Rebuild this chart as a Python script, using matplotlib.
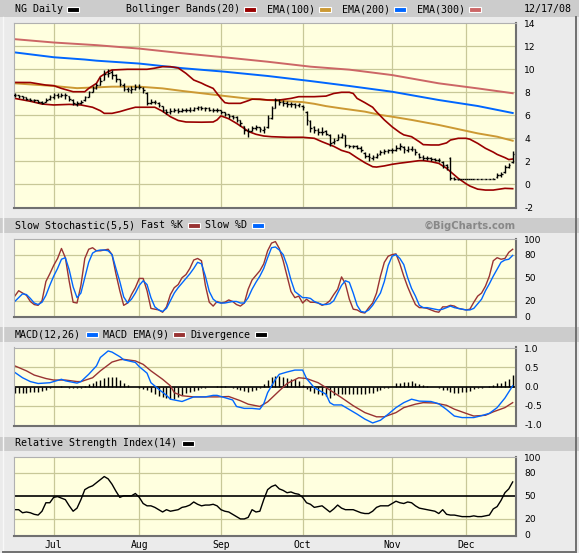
import numpy as np
import pandas as pd
import matplotlib
matplotlib.use('Agg')
import matplotlib.pyplot as plt
from matplotlib.patches import Rectangle
from matplotlib.lines import Line2D

plt.rcParams['axes.unicode_minus'] = False

# ------------------------------------------------------------------ data
holidays = ['2008-07-04', '2008-09-01', '2008-11-27']
dates = pd.bdate_range('2008-06-17', '2008-12-17')
dates = dates[~dates.isin(pd.to_datetime(holidays))]
month_labels = ['Jul', 'Aug', 'Sep', 'Oct', 'Nov', 'Dec']
month_numbers = [7, 8, 9, 10, 11, 12]

price_open = [7.80,7.75,7.65,7.55,7.45,7.35,7.30,7.20,7.15,7.40,
              7.55,7.75,7.70,7.80,7.70,7.35,7.00,7.05,7.30,7.60,
              8.05,8.40,8.65,9.10,9.55,9.75,9.50,9.15,8.65,8.30,
              8.20,8.30,8.50,8.40,7.90,7.05,7.20,7.10,6.80,6.45,
              6.30,6.40,6.50,6.40,6.45,6.50,6.50,6.60,6.70,6.65,
              6.60,6.50,6.50,6.45,6.25,6.10,5.95,5.85,5.55,5.05,
              4.70,4.65,4.90,4.95,4.75,4.95,5.80,6.65,7.30,7.15,
              7.10,7.00,6.95,6.90,6.85,6.30,5.50,4.95,4.70,4.55,
              4.60,4.30,3.65,3.85,4.15,4.25,3.40,3.30,3.30,3.20,
              2.75,2.45,2.30,2.40,2.60,2.80,2.90,3.00,3.00,3.20,
              3.25,3.00,3.10,3.05,2.65,2.40,2.30,2.30,2.20,2.15,
              1.95,1.70,2.30,0.55,0.48,0.45,0.45,0.45,0.45,0.45,
              0.45,0.45,0.45,0.45,0.60,0.80,1.05,1.50,1.90]
price_high = [7.90,7.80,7.70,7.60,7.50,7.45,7.35,7.25,7.50,7.75,
              7.95,7.95,7.95,7.95,7.70,7.40,7.25,7.35,7.70,8.15,
              8.55,8.80,9.30,9.95,10.00,9.95,9.60,9.20,8.80,8.50,
              8.55,8.75,8.75,8.45,8.00,7.40,7.35,7.15,6.80,6.55,
              6.60,6.65,6.60,6.60,6.65,6.70,6.75,6.85,6.80,6.75,
              6.70,6.65,6.60,6.50,6.30,6.15,6.05,5.90,5.60,5.10,
              4.90,5.05,5.15,5.00,5.10,6.00,6.80,7.50,7.45,7.30,
              7.25,7.15,7.10,7.10,6.90,6.40,5.60,5.05,4.90,4.95,
              4.70,4.40,4.00,4.35,4.45,4.30,3.45,3.45,3.40,3.30,
              2.80,2.70,2.55,2.70,3.00,3.05,3.10,3.15,3.40,3.55,
              3.30,3.30,3.30,3.10,2.70,2.55,2.50,2.40,2.30,2.30,
              2.00,1.80,2.40,0.60,0.50,0.48,0.48,0.48,0.48,0.48,
              0.48,0.48,0.48,0.55,0.95,1.05,1.70,1.85,2.90]
price_low = [7.55,7.50,7.40,7.35,7.25,7.20,7.05,7.00,7.15,7.35,
             7.45,7.50,7.55,7.40,7.25,6.90,6.85,6.95,7.25,7.60,
             8.00,8.30,8.60,9.10,9.30,9.20,8.90,8.55,8.10,8.00,
             7.95,8.20,8.25,7.95,6.90,6.95,7.00,6.70,6.30,6.10,
             6.15,6.25,6.20,6.25,6.30,6.30,6.35,6.45,6.45,6.40,
             6.35,6.30,6.30,6.10,5.90,5.75,5.65,5.40,5.05,4.40,
             4.15,4.60,4.70,4.55,4.50,4.90,5.70,6.60,6.90,6.85,
             6.75,6.70,6.65,6.70,6.45,5.20,4.55,4.45,4.30,4.30,
             4.25,3.30,3.50,3.85,4.00,3.25,3.15,3.15,3.10,2.85,
             2.25,2.05,2.10,2.25,2.55,2.60,2.70,2.75,2.90,3.00,
             2.70,2.85,2.90,2.55,2.25,2.10,2.10,2.05,2.00,1.95,
             1.40,1.25,0.35,0.40,0.40,0.42,0.42,0.42,0.42,0.42,
             0.42,0.42,0.42,0.42,0.55,0.65,1.00,1.45,1.85]
price_close = [7.75,7.65,7.55,7.45,7.35,7.30,7.20,7.10,7.35,7.60,
               7.75,7.70,7.80,7.75,7.40,7.05,7.05,7.20,7.55,8.00,
               8.40,8.60,9.00,9.60,9.70,9.50,9.20,8.70,8.30,8.25,
               8.30,8.50,8.50,8.20,7.10,7.20,7.20,6.90,6.50,6.30,
               6.40,6.50,6.40,6.45,6.50,6.50,6.60,6.70,6.65,6.60,
               6.50,6.50,6.45,6.30,6.10,5.95,5.85,5.60,5.30,4.70,
               4.60,4.90,4.95,4.80,4.85,5.80,6.60,7.30,7.15,7.10,
               7.00,6.95,6.90,6.95,6.70,5.60,4.90,4.70,4.55,4.55,
               4.40,3.60,3.80,4.15,4.30,3.40,3.30,3.30,3.20,3.00,
               2.50,2.35,2.40,2.55,2.80,2.90,3.00,3.00,3.20,3.30,
               3.05,3.10,3.10,2.80,2.40,2.30,2.30,2.20,2.15,2.10,
               1.70,1.50,0.55,0.50,0.45,0.45,0.45,0.45,0.45,0.45,
               0.45,0.45,0.45,0.45,0.80,0.90,1.50,1.70,2.60]

# Bollinger bands and EMAs (sampled: trading-day index, value)
bb_upper_day = [0,4,8,10,12,15,18,19,21,22,24,25,29,34,36,38,40,42,44,46,48,49,51,52,53,54,55,58,60,61,63,65,68,71,73,77,80,82,84,86,87,88,90,92,93,95,97,99,100,102,104,105,107,109,111,112,114,116,117,119,121,123,124,126,127,128]
bb_upper_val = [8.86,8.85,8.63,8.58,8.34,8.05,8.05,8.34,8.78,9.36,9.8,9.94,10.0,10.0,10.1,10.23,10.23,10.12,9.65,9.07,8.8,8.63,8.34,7.9,7.47,7.1,7.04,7.04,7.27,7.4,7.4,7.33,7.33,7.47,7.62,7.62,7.67,7.9,8.0,8.0,7.9,7.47,7.1,6.7,6.3,5.6,5.0,4.5,4.3,4.14,3.7,3.45,3.42,3.42,3.6,3.85,4.0,4.0,3.92,3.56,3.13,2.8,2.6,2.32,2.15,2.2]
bb_lower_day = [0,4,7,10,14,17,20,22,23,25,27,29,31,36,38,40,42,44,48,51,52,53,55,57,59,60,62,64,66,70,74,77,79,82,84,86,88,90,92,93,95,97,99,100,102,104,105,107,109,110,111,112,114,116,117,119,121,123,124,126,128]
bb_lower_val = [7.47,7.22,6.98,6.9,6.95,6.9,6.7,6.4,6.17,6.17,6.32,6.52,6.7,6.7,6.35,5.88,5.55,5.42,5.4,5.42,5.6,5.95,5.7,5.3,4.85,4.6,4.35,4.2,4.14,4.09,4.09,4.0,3.7,3.3,2.95,2.75,2.3,1.88,1.53,1.5,1.6,1.74,1.84,1.88,1.97,2.06,2.06,1.97,1.82,1.6,1.4,1.1,0.52,0.05,-0.15,-0.42,-0.5,-0.5,-0.45,-0.35,-0.38]
ema100_day = [0,10,16,21,25,32,38,43,54,60,65,70,74,77,80,84,90,94,97,102,109,113,119,124,128]
ema100_val = [8.78,8.55,8.36,8.43,8.49,8.49,8.34,8.12,7.68,7.45,7.33,7.22,7.15,7.0,6.8,6.6,6.32,6.03,5.88,5.6,5.16,4.87,4.43,4.14,3.79]
ema200_day = [0,10,18,21,32,43,54,65,76,86,97,109,119,128]
ema200_val = [11.47,11.05,10.85,10.75,10.5,10.1,9.79,9.42,8.98,8.55,8.05,7.33,6.81,6.2]
ema300_day = [0,10,21,32,43,54,65,76,86,97,109,119,128]
ema300_val = [12.62,12.33,12.1,11.8,11.4,11.04,10.66,10.23,9.97,9.5,8.78,8.34,7.92]

stoch_fast_k = [26,33,30,27,19,15,14,20,45,55,66,75,88,76,45,18,17,40,75,87,
                89,85,85,86,87,80,55,33,14,17,28,37,49,49,33,10,9,8,5,12,
                28,37,41,50,54,62,73,75,72,40,18,13,19,17,18,21,19,15,13,17,
                35,47,53,59,68,85,95,97,88,72,52,32,24,26,17,22,18,18,17,14,
                16,20,28,35,51,42,22,9,8,5,4,11,17,30,52,70,78,80,81,68,
                52,38,26,15,11,11,10,8,6,5,12,12,14,13,10,9,8,9,18,26,
                30,39,52,72,76,74,75,83,87]
stoch_slow_d = [19,24,29,28,23,17,15,18,27,40,52,62,74,76,60,38,24,30,50,70,
                82,85,86,86,85,80,62,45,25,17,22,30,40,46,41,24,12,8,6,10,
                20,30,37,43,49,55,62,70,68,52,32,22,18,17,17,18,19,19,17,17,
                24,35,44,52,62,76,89,90,86,80,66,47,32,28,24,24,23,19,17,15,
                15,16,20,30,40,46,44,30,14,6,5,8,14,22,30,45,66,78,80,75,
                67,50,36,26,14,11,11,10,9,8,9,11,13,11,10,9,8,8,10,16,
                22,33,42,52,61,70,73,74,79]

macd_day = [0,2,4,6,9,12,13,16,17,19,21,22,24,25,27,28,31,32,34,35,37,39,40,43,45,46,49,51,52,54,56,57,59,61,63,64,65,67,68,70,72,74,75,77,80,81,82,84,86,88,90,92,94,96,98,100,102,104,107,109,111,113,115,118,120,122,124,126,128]
macd_val = [0.37,0.23,0.13,0.08,0.10,0.19,0.15,0.09,0.13,0.32,0.54,0.76,0.93,0.9,0.78,0.70,0.63,0.52,0.35,0.10,-0.07,-0.23,-0.33,-0.39,-0.31,-0.27,-0.27,-0.23,-0.23,-0.29,-0.35,-0.52,-0.57,-0.57,-0.59,-0.45,-0.16,0.19,0.32,0.38,0.43,0.43,0.21,-0.03,-0.2,-0.42,-0.48,-0.48,-0.6,-0.72,-0.85,-0.95,-0.88,-0.72,-0.55,-0.42,-0.33,-0.38,-0.39,-0.45,-0.6,-0.77,-0.81,-0.81,-0.76,-0.7,-0.55,-0.3,0.02]
signal_day = [0,3,5,8,10,13,16,17,20,22,25,27,28,31,33,35,38,40,41,43,46,49,52,55,58,60,63,65,68,70,73,75,78,81,84,87,90,93,95,98,100,103,105,108,111,113,116,118,121,123,126,128]
signal_val = [0.54,0.41,0.30,0.21,0.17,0.17,0.13,0.13,0.23,0.41,0.64,0.70,0.71,0.67,0.58,0.41,0.19,0.02,-0.16,-0.24,-0.27,-0.27,-0.27,-0.26,-0.37,-0.46,-0.52,-0.40,-0.11,0.08,0.23,0.21,0.10,-0.09,-0.29,-0.5,-0.68,-0.79,-0.79,-0.68,-0.55,-0.46,-0.42,-0.43,-0.49,-0.59,-0.70,-0.77,-0.75,-0.66,-0.55,-0.42]
divergence = [-0.17,-0.17,-0.17,-0.16,-0.15,-0.14,-0.13,-0.11,-0.08,-0.05,
              -0.02,0.0,0.01,-0.01,-0.03,-0.05,-0.05,-0.04,0.02,0.06,
              0.10,0.14,0.18,0.22,0.25,0.26,0.24,0.18,0.10,0.05,
              0.0,-0.02,-0.04,-0.07,-0.10,-0.15,-0.20,-0.24,-0.28,-0.31,
              -0.33,-0.32,-0.28,-0.22,-0.18,-0.14,-0.11,-0.08,-0.05,-0.03,
              -0.01,0.0,0.01,0.02,0.02,0.0,-0.03,-0.07,-0.10,-0.12,
              -0.13,-0.12,-0.10,-0.05,0.06,0.18,0.24,0.28,0.28,0.25,
              0.23,0.21,0.19,0.15,0.03,-0.07,-0.11,-0.16,-0.20,-0.23,
              -0.24,-0.29,-0.23,-0.20,-0.20,-0.20,-0.20,-0.20,-0.20,-0.20,
              -0.20,-0.18,-0.16,-0.11,-0.09,-0.05,-0.03,0.0,0.10,0.10,
              0.13,0.13,0.15,0.10,0.06,0.03,0.02,0.0,-0.02,-0.05,
              -0.08,-0.09,-0.14,-0.16,-0.16,-0.14,-0.14,-0.11,-0.07,-0.05,
              -0.03,0.0,0.02,0.04,0.08,0.10,0.15,0.19,0.30]

rsi = [32,32,28,29,28,26,25,30,41,41,48,49,47,45,37,30,34,45,58,61,
       63,67,71,75,72,65,56,48,50,50,50,53,48,40,37,37,35,32,29,32,
       30,31,32,35,36,38,42,39,37,38,38,39,37,32,30,29,26,23,20,20,
       22,32,29,30,45,58,62,64,59,57,54,55,53,52,48,41,39,35,36,37,
       33,29,33,38,34,32,32,32,30,28,27,27,30,35,37,37,37,40,43,41,
       40,42,41,37,34,33,32,31,30,27,32,26,25,25,24,23,23,23,24,23,
       23,24,25,33,36,44,54,59,68]

main_ticks = [14, 12, 10, 8, 6, 4, 2, 0, -2]
osc_ticks = [100, 80, 50, 20, 0]
macd_ticks = [1.0, 0.5, 0.0, -0.5, -1.0]
macd_tick_labels = ['1.0', '0.5', '0.0', '-0.5', '-1.0']

# ------------------------------------------------------------------ style
W, H = 579, 553
BG = '#ebebeb'
BAND = '#cccccc'
PLOT_BG = '#ffffdf'
GRID = '#c8c898'
DARK_RED = '#990000'
GOLD = '#cc9933'
BLUE = '#0066ff'
PINK = '#cc6666'
KRED = '#993333'
MONO = 'DejaVu Sans Mono'

days = np.arange(len(dates))
month_pos = [int(np.argmax(dates.month == m)) for m in month_numbers]

fig = plt.figure(figsize=(W / 100, H / 100), dpi=100, facecolor=BG)


def rect(x0, y0, x1, y1):
    return [x0 / W, 1 - y1 / H, (x1 - x0) / W, (y1 - y0) / H]


def fig_rect(x0, y0, x1, y1, **kw):
    fig.patches.append(Rectangle((x0 / W, 1 - y1 / H), (x1 - x0) / W, (y1 - y0) / H,
                                 transform=fig.transFigure, figure=fig, **kw))


def fig_line(xs, ys, **kw):
    fig.lines.append(Line2D([x / W for x in xs], [1 - y / H for y in ys],
                            transform=fig.transFigure, figure=fig, **kw))


# header bands
for (y0, y1) in [(0, 16.5), (217.5, 232.5), (327, 342), (436.5, 451)]:
    fig_rect(0, y0, W, y1, facecolor=BAND, edgecolor='none', zorder=0)

# outer frame
fig_line([2.5, 2.5], [16.5, 551], color='#f8f8f8', lw=1.0)
fig_line([576, 576], [16.5, 551.5], color='#707070', lw=1.4)
fig_line([2.5, 576], [551.5, 551.5], color='#707070', lw=1.4)


def header(x, y, s, **kw):
    fig.text(x / W, 1 - y / H, s, fontfamily=MONO, fontsize=7.2,
             ha='left', va='center', **kw)


def swatch(x, y, color):
    fig_rect(x, y - 2.6, x + 12, y + 2.6, facecolor=color, edgecolor='white',
             lw=0.8, zorder=3)


def legend_item(x, y, s, color):
    header(x, y, s)
    swatch(x + len(s) * 6.02 + 4.5, y, color)


ytop = 9.3
legend_item(14.8, ytop, 'NG Daily', 'black')
legend_item(125.5, ytop, 'Bollinger Bands(20)', DARK_RED)
legend_item(266.6, ytop, 'EMA(100)', GOLD)
legend_item(341.6, ytop, 'EMA(200)', BLUE)
legend_item(416.5, ytop, 'EMA(300)', PINK)
header(523.6, ytop, dates[-1].strftime('%m/%d/%y'))

ys = 225.5
header(14.8, ys, 'Slow Stochastic(5,5)')
legend_item(14.8 + 21 * 6.02, ys, 'Fast %K', KRED)
legend_item(205.0, ys, 'Slow %D', BLUE)
fig.text(516 / W, 1 - ys / H, '\u00a9BigCharts.com', fontfamily='DejaVu Sans',
         fontweight='bold', fontsize=7.2, color='#888888', ha='right', va='center')

ym = 334.5
legend_item(14.8, ym, 'MACD(12,26)', BLUE)
legend_item(102.7, ym, 'MACD EMA(9)', KRED)
legend_item(190.0, ym, 'Divergence', 'black')

yr = 443.5
legend_item(14.8, yr, 'Relative Strength Index(14)', 'black')

XL = (-0.33, 128.85)


def make_axes(y0, y1, ylim, ticks, labels, hgrid, blackline=None):
    ax = fig.add_axes(rect(13.5, y0, 516, y1))
    ax.set_facecolor(PLOT_BG)
    ax.set_xlim(*XL)
    ax.set_ylim(*ylim)
    for v in hgrid:
        ax.axhline(v, color=GRID, lw=0.9, zorder=0.5)
    for p in month_pos:
        ax.axvline(p, color=GRID, lw=0.9, zorder=0.5)
    if blackline is not None:
        ax.axhline(blackline, color='black', lw=1.2, zorder=1.5)
    ax.yaxis.tick_right()
    ax.set_yticks(ticks)
    ax.set_yticklabels(labels)
    ax.tick_params(axis='y', length=0, pad=6, labelsize=6.6)
    ax.set_xticks([])
    for side in ['left', 'top']:
        ax.spines[side].set_color('#b0b0b0')
        ax.spines[side].set_linewidth(0.8)
    for side in ['right', 'bottom']:
        ax.spines[side].set_color('#707070')
        ax.spines[side].set_linewidth(1.5)
    return ax


# ---- main price panel
ax1 = make_axes(22.5, 208, (-2.06, 14.07), main_ticks, [str(t) for t in main_ticks],
                [12, 10, 8, 6, 4, 2, 0])
ax1.plot(ema300_day, ema300_val, color=PINK, lw=1.4, zorder=2)
ax1.plot(ema200_day, ema200_val, color=BLUE, lw=1.4, zorder=2)
ax1.plot(ema100_day, ema100_val, color=GOLD, lw=1.4, zorder=2)
ax1.plot(bb_upper_day, bb_upper_val, color=DARK_RED, lw=1.2, zorder=2)
ax1.plot(bb_lower_day, bb_lower_val, color=DARK_RED, lw=1.2, zorder=2)
ax1.vlines(days, price_low, price_high, color='black', lw=1.0, zorder=3)
ax1.hlines(price_open, days - 0.42, days, color='black', lw=1.0, zorder=3)
ax1.hlines(price_close, days, days + 0.42, color='black', lw=1.0, zorder=3)

# ---- stochastic
ax2 = make_axes(238.5, 317, (-1.2, 101), osc_ticks, [str(t) for t in osc_ticks],
                [20, 50, 80])
ax2.plot(days, stoch_fast_k, color=KRED, lw=1.0, zorder=2)
ax2.plot(days, stoch_slow_d, color=BLUE, lw=1.0, zorder=2.1)

# ---- MACD
ax3 = make_axes(347.5, 426, (-1.03, 1.02), macd_ticks, macd_tick_labels,
                [0.5, -0.5], blackline=0.0)
ax3.vlines(days, 0, divergence, color='black', lw=1.0, zorder=2)
ax3.plot(macd_day, macd_val, color=BLUE, lw=1.0, zorder=2.2)
ax3.plot(signal_day, signal_val, color=KRED, lw=1.0, zorder=2.1)

# ---- RSI
ax4 = make_axes(456.5, 535.5, (-1.5, 101), osc_ticks, [str(t) for t in osc_ticks],
                [20, 80], blackline=50)
ax4.plot(days, rsi, color='black', lw=1.0, zorder=2)
ax4.set_xticks(month_pos)
ax4.set_xticklabels(month_labels, fontfamily=MONO, fontsize=7.0)
ax4.tick_params(axis='x', length=0, pad=3)

fig.savefig('out.png', dpi=100, facecolor=BG)
